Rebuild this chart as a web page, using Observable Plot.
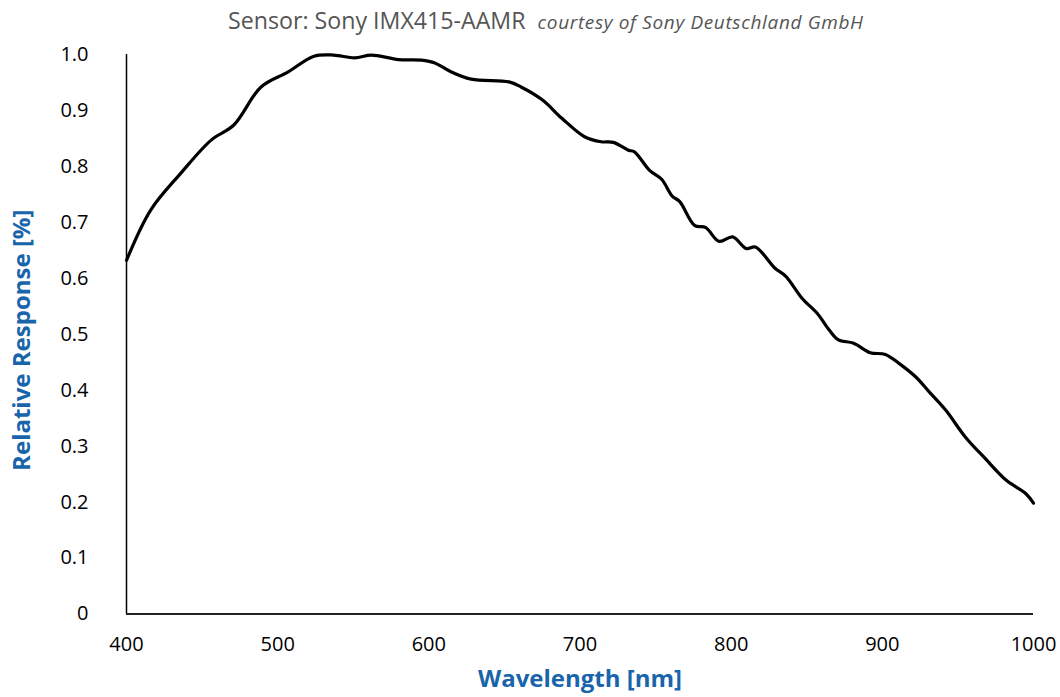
<!DOCTYPE html>
<html>
<head>
<meta charset="utf-8">
<script src="https://cdn.jsdelivr.net/npm/d3@7"></script>
<script src="https://cdn.jsdelivr.net/npm/@observablehq/plot@0.6"></script>
<style>
  html, body { margin: 0; padding: 0; background: #fff; }
  #wrap { width: 1060px; height: 697px; position: relative; }
  #title { height: 40px; font-family: "Open Sans", sans-serif; color: #555; line-height: 40px; white-space: nowrap; padding-left: 228px; box-sizing: border-box; }
  #title .main { font-size: 23.2px; }
  #title .sub { font-size: 19px; font-style: italic; letter-spacing: 0.65px; margin-left: 12px; }
  svg { display: block; }
</style>
</head>
<body>
<div id="wrap">
  <div id="title"><span class="main">Sensor: Sony IMX415-AAMR</span><span class="sub">courtesy of Sony Deutschland GmbH</span></div>
  <div id="chart"></div>
</div>
<script>
const wavelength = [400, 416, 436, 456, 471, 489, 507, 524, 537, 551, 562, 580, 595, 604, 614, 628, 653, 661, 675, 688, 703, 714, 722, 732, 736, 746, 754, 761, 766, 776, 783, 792, 801, 810, 816, 829, 836, 847, 857, 865, 871, 881, 892, 902, 911, 922, 931, 942, 955, 968, 982, 995, 1000];
const response   = [0.632, 0.722, 0.788, 0.847, 0.874, 0.942, 0.969, 0.997, 0.999, 0.994, 0.999, 0.991, 0.990, 0.985, 0.970, 0.956, 0.951, 0.942, 0.919, 0.886, 0.853, 0.844, 0.843, 0.829, 0.826, 0.793, 0.777, 0.747, 0.737, 0.694, 0.691, 0.666, 0.674, 0.653, 0.656, 0.618, 0.604, 0.564, 0.537, 0.507, 0.490, 0.484, 0.467, 0.464, 0.448, 0.424, 0.397, 0.364, 0.316, 0.278, 0.239, 0.215, 0.198];
const xTicks = [400, 500, 600, 700, 800, 900, 1000];
const yTicks = [0, 0.1, 0.2, 0.3, 0.4, 0.5, 0.6, 0.7, 0.8, 0.9, 1.0];
const xLabel = "Wavelength [nm]";
const yLabel = "Relative Response [%]";

const data = wavelength.map((w, i) => ({w, r: response[i]}));
const blue = "#1865ac";
const font = "Open Sans, sans-serif";

const chart = Plot.plot({
  width: 1060,
  height: 657,
  marginTop: 14,
  marginBottom: 83.5,
  marginLeft: 126,
  marginRight: 27,
  style: {fontFamily: font, fontSize: "20px", color: "#000", background: "#fff"},
  x: {domain: [400, 1000]},
  y: {domain: [0, 1]},
  marks: [
    Plot.axisX({ticks: xTicks, tickSize: 0, tickPadding: 23, label: null, fontSize: 20, tickFormat: d => String(d)}),
    Plot.axisY({ticks: yTicks, tickSize: 0, tickPadding: 38, label: null, fontSize: 20, tickFormat: d => d === 0 ? "0" : d.toFixed(1)}),
    Plot.ruleX([400], {y1: 0, y2: 1, stroke: "#000", strokeWidth: 1.5}),
    Plot.ruleY([0], {x1: 400, x2: 1000, stroke: "#222", strokeWidth: 2}),
    Plot.line(data, {x: "w", y: "r", curve: "catmull-rom", stroke: "#000", strokeWidth: 3.2}),
    Plot.text([xLabel], {frameAnchor: "bottom", dy: 73, fill: blue, fontWeight: "bold", fontSize: 24, fontFamily: font}),
    Plot.text([yLabel], {frameAnchor: "left", textAnchor: "middle", dx: -104, dy: 6, rotate: -90, fill: blue, fontWeight: "bold", fontSize: 24, fontFamily: font})
  ]
});
document.getElementById("chart").appendChild(chart);
</script>
</body>
</html>
